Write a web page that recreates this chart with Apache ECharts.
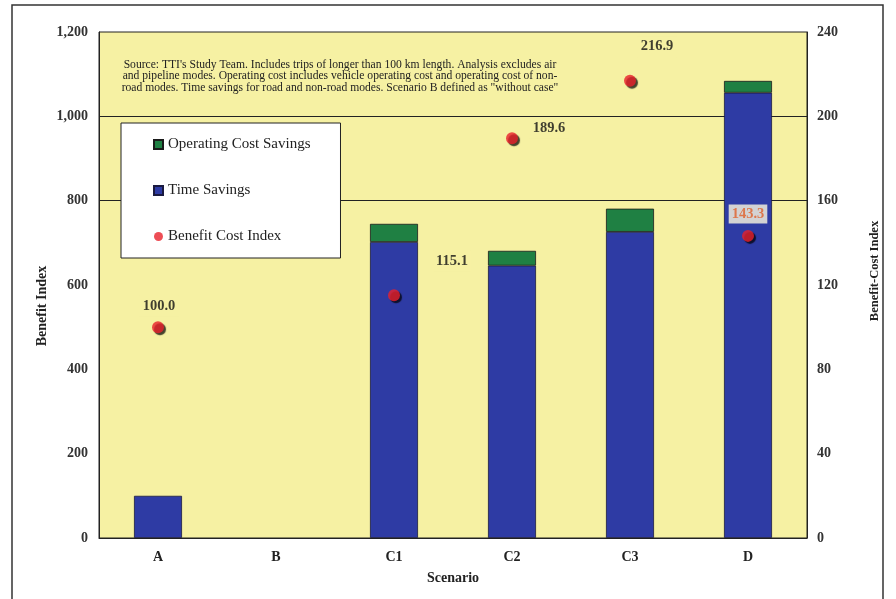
<!DOCTYPE html>
<html>
<head>
<meta charset="utf-8">
<script src="https://cdn.jsdelivr.net/npm/echarts@6/dist/echarts.min.js"></script>
<style>
  html, body { margin: 0; padding: 0; background: #ffffff; }
  #chart { width: 896px; height: 599px; }
</style>
</head>
<body>
<div id="chart"></div>
<script>
// Scenario categories and values
const scenarios = ['A', 'B', 'C1', 'C2', 'C3', 'D'];
const timeSavings = [100, null, 702, 646, 726, 1056];
const operatingCostSavings = [null, null, 43, 35, 55, 28];
const benefitCostIndex = [100.0, null, 115.1, 189.6, 216.9, 143.3];
const leftTicks = [0, 200, 400, 600, 800, 1000, 1200];
const rightTicks = [0, 40, 80, 120, 160, 200, 240];
const sourceNote = [
  "Source: TTI's Study Team. Includes trips of longer than 100 km length. Analysis excludes air",
  "and pipeline modes. Operating cost includes vehicle operating cost and operating cost of non-",
  "road modes. Time savings for road and non-road modes. Scenario B defined as \"without case\""
];

const serif = '"Liberation Serif", "DejaVu Serif", serif';
const plotYellow = '#f6f1a3';

// label placement for each benefit-cost point (offset from the marker)
const bciLabelOffsets = [[1, -21], null, [58, -34], [37, -10], [27, -34], [0, -22]];

const bciData = benefitCostIndex.map((v, i) => {
  if (v == null) return null;
  const isD = scenarios[i] === 'D';
  return {
    value: v,
    label: {
      show: true,
      position: 'inside',
      offset: bciLabelOffsets[i],
      formatter: (p) => p.value.toFixed(1),
      color: isD ? '#e0602a' : '#111',
      fontFamily: serif,
      fontWeight: 'bold',
      fontSize: 14.5,
      backgroundColor: isD ? '#fcf9de' : plotYellow,
      padding: isD ? [2, 3] : [4, 3, 2, 3]
    }
  };
});

const chart = echarts.init(document.getElementById('chart'), null, { renderer: 'canvas' });

chart.setOption({
  animation: false,
  backgroundColor: '#ffffff',
  grid: {
    left: 99, right: 89, top: 32, bottom: 61,
    show: true,
    backgroundColor: plotYellow,
    borderColor: '#222',
    borderWidth: 1
  },
  legend: {
    orient: 'vertical',
    left: 121, top: 123,
    backgroundColor: '#ffffff',
    borderColor: '#222',
    borderWidth: 1,
    padding: [14, 30, 14, 32],
    itemGap: 31,
    itemWidth: 9,
    itemHeight: 9,
    textStyle: { fontFamily: serif, fontSize: 15, color: '#222' },
    data: [
      { name: 'Operating Cost Savings', icon: 'rect' },
      { name: 'Time Savings', icon: 'rect' },
      { name: 'Benefit Cost Index', icon: 'circle' }
    ]
  },
  xAxis: {
    type: 'category',
    data: scenarios,
    name: 'Scenario',
    nameLocation: 'middle',
    nameGap: 33,
    nameTextStyle: { fontFamily: serif, fontWeight: 'bold', fontSize: 14, color: '#222' },
    axisLine: { lineStyle: { color: '#222' } },
    axisTick: { show: false },
    axisLabel: { fontFamily: serif, fontWeight: 'bold', fontSize: 14, color: '#222', margin: 12 }
  },
  yAxis: [
    {
      type: 'value',
      min: leftTicks[0],
      max: leftTicks[leftTicks.length - 1],
      interval: leftTicks[1] - leftTicks[0],
      axisLine: { show: true, lineStyle: { color: '#222' } },
      axisTick: { show: false },
      axisLabel: {
        fontFamily: serif, fontWeight: 'bold', fontSize: 14, color: '#333', margin: 11,
        formatter: (v) => v.toLocaleString('en-US')
      },
      // only the 800 and 1,000 reference lines are drawn
      splitLine: {
        show: true,
        lineStyle: { color: ['rgba(0,0,0,0)', 'rgba(0,0,0,0)', 'rgba(0,0,0,0)', 'rgba(0,0,0,0)', '#222', '#222', 'rgba(0,0,0,0)'], width: 1 }
      }
    },
    {
      type: 'value',
      min: rightTicks[0],
      max: rightTicks[rightTicks.length - 1],
      interval: rightTicks[1] - rightTicks[0],
      axisLine: { show: true, lineStyle: { color: '#222' } },
      axisTick: { show: false },
      axisLabel: { fontFamily: serif, fontWeight: 'bold', fontSize: 14, color: '#333', margin: 10 },
      splitLine: { show: false }
    }
  ],
  series: [
    {
      name: 'Time Savings',
      type: 'bar',
      stack: 'benefit',
      data: timeSavings,
      barWidth: 48,
      itemStyle: { color: '#2e3ba4', borderColor: '#1a1a40', borderWidth: 0.8 }
    },
    {
      name: 'Operating Cost Savings',
      type: 'bar',
      stack: 'benefit',
      data: operatingCostSavings,
      barWidth: 48,
      itemStyle: { color: '#1f8043', borderColor: '#1a1a1a', borderWidth: 0.8 }
    },
    {
      name: 'Benefit Cost Index',
      type: 'scatter',
      yAxisIndex: 1,
      data: bciData,
      symbol: 'circle',
      symbolSize: 12,
      z: 5,
      itemStyle: {
        color: '#e8202a',
        shadowColor: 'rgba(0,0,0,0.9)',
        shadowOffsetX: 2,
        shadowOffsetY: 2,
        shadowBlur: 1
      }
    }
  ],
  graphic: [
    {
      // source note, centred over the left half of the plot
      type: 'text',
      x: 340,
      y: 59,
      z: 10,
      style: {
        text: sourceNote.join('\n'),
        font: '11.6px ' + serif,
        fill: '#222',
        lineHeight: 11.5,
        align: 'center',
        verticalAlign: 'top'
      }
    },
    {
      // left axis title
      type: 'text',
      x: 42, y: 306,
      rotation: Math.PI / 2,
      z: 10,
      style: {
        text: 'Benefit Index',
        font: 'bold 14px ' + serif,
        fill: '#222',
        align: 'center',
        verticalAlign: 'middle'
      }
    },
    {
      // right axis title
      type: 'text',
      x: 875, y: 271,
      rotation: Math.PI / 2,
      z: 10,
      style: {
        text: 'Benefit-Cost Index',
        font: 'bold 12.5px ' + serif,
        fill: '#222',
        align: 'center',
        verticalAlign: 'middle'
      }
    },
    {
      // chart frame
      type: 'polyline',
      z: 10,
      shape: { points: [[12, 599], [12, 5], [883, 5], [883, 599]] },
      style: { stroke: '#333', lineWidth: 1.5, fill: null }
    }
  ]
});
</script>
</body>
</html>
